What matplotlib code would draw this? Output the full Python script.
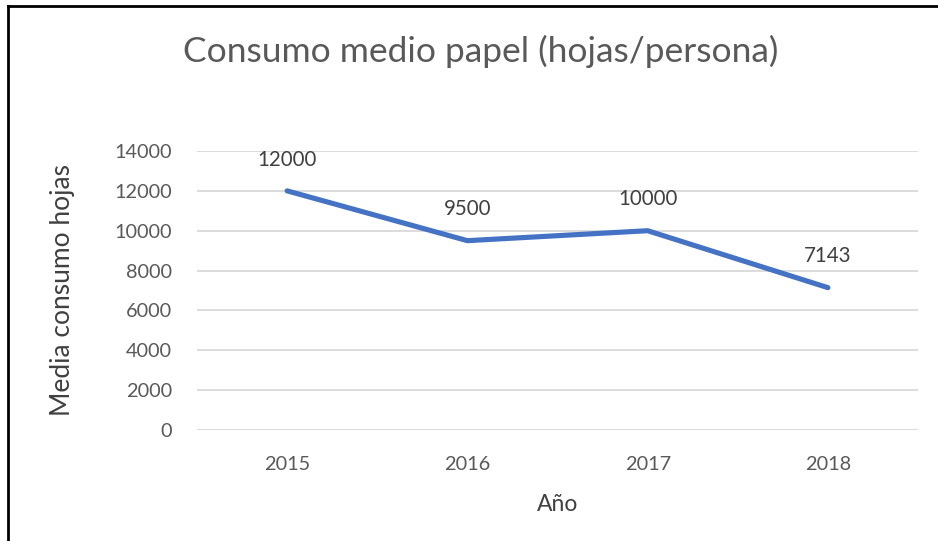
import matplotlib
matplotlib.use("Agg")
import matplotlib.pyplot as plt
from matplotlib.lines import Line2D

years = ["2015", "2016", "2017", "2018"]
values = [12000, 9500, 10000, 7143]
yticks = [0, 2000, 4000, 6000, 8000, 10000, 12000, 14000]

plt.rcParams['font.family'] = ['Lato', 'DejaVu Sans']
txt = '#595959'

fig = plt.figure(figsize=(9.38, 5.41), dpi=100)
ax = fig.add_axes([0.21, 0.2052, 0.7687, 0.5157])
x = list(range(len(years)))
ax.plot(x, values, color='#4472C4', linewidth=3.7, solid_capstyle='round', zorder=3)
for xi, v in zip(x, values):
    ax.annotate(str(v), (xi, v), xytext=(0, 22.5), textcoords='offset points',
                ha='center', va='center', fontsize=14.8, color='#404040')
ax.set_xlim(-0.5, len(years) - 0.5)
ax.set_ylim(0, 14000)
ax.set_yticks(yticks)
ax.set_yticklabels([str(t) for t in yticks])
ax.set_xticks(x)
ax.set_xticklabels(years)
ax.grid(axis='y', color='#D9D9D9', linewidth=1.3)
ax.set_axisbelow(True)
for s in ax.spines.values():
    s.set_visible(False)
ax.tick_params(axis='both', length=0, labelsize=14.3, colors=txt)
ax.tick_params(axis='y', pad=18)
ax.tick_params(axis='x', pad=19)
ax.set_xlabel("Año", fontsize=16.5, color='#404040', labelpad=15)
ax.set_ylabel("Media consumo hojas", fontsize=19, color='#404040', labelpad=28)
fig.text(0.512, 0.905, "Consumo medio papel (hojas/persona)", ha='center', va='center',
         fontsize=25.5, color='#595959')
fig.add_artist(Line2D([0.008, 0.008], [0, 0.988], transform=fig.transFigure, color='black', linewidth=2))
fig.add_artist(Line2D([0.008, 1.0], [0.988, 0.988], transform=fig.transFigure, color='black', linewidth=2))
fig.savefig("out.png", dpi=100)
